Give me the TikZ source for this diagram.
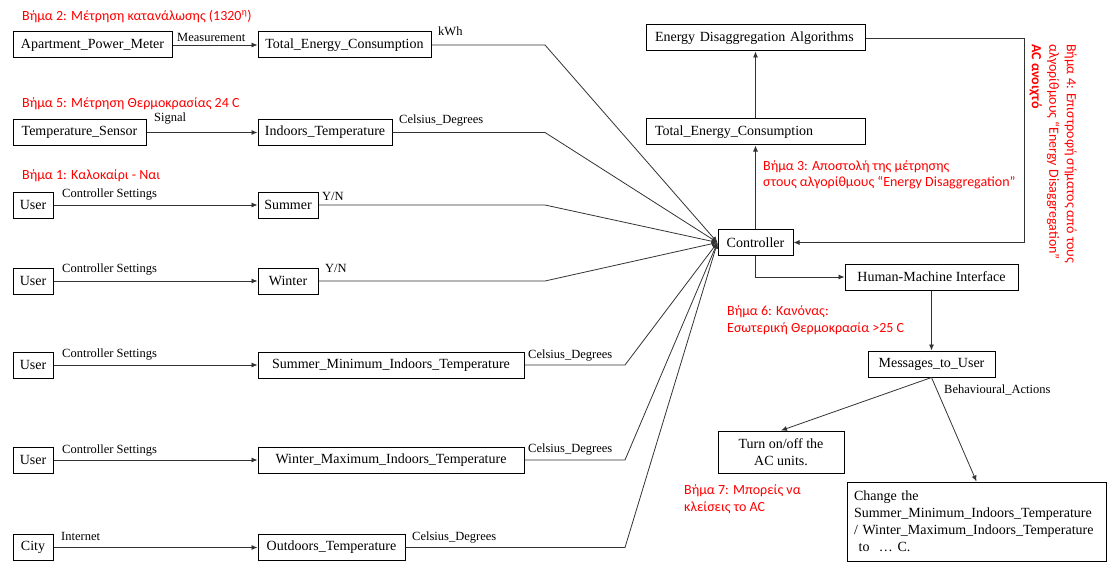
\documentclass[tikz,border=0pt]{standalone}
\usepackage{fontspec}
\setmainfont{Liberation Serif}
\newfontfamily\notefam{Carlito}
\usetikzlibrary{arrows.meta,positioning}

\tikzset{
  box/.style={rectangle, draw, line width=1pt, minimum height=26pt, inner xsep=4pt,
    font=\fontsize{14}{16}\selectfont},
  leftbox/.style={box, inner xsep=9pt, align=left},
  lbl/.style={anchor=base west, inner sep=0pt, font=\fontsize{12.5}{14}\selectfont},
  notetext/.style={anchor=west, inner sep=0pt, align=left, text=red,
    font=\notefam\fontsize{14}{16.5}\selectfont},
  flow/.style={-{Latex[length=6pt,width=5pt]}, line width=0.8pt, draw=black!80},
}

\begin{document}
\begin{tikzpicture}[x=1pt,y=-1pt]
  \useasboundingbox (0,0) rectangle (1108,567);

  % inputs, left column
  \node [box, minimum width=159pt] (apm) at (92.5,45) {Apartment\_Power\_Meter};
  \node [box, minimum width=133pt] (tsens) at (79.5,132.5) {Temperature\_Sensor};
  \node [box, minimum width=40pt] (user1) at (33,205) {User};
  \node [box, minimum width=40pt] (user2) at (33,281) {User};
  \node [box, minimum width=40pt] (user3) at (33,365) {User};
  \node [box, minimum width=40pt] (user4) at (33,460) {User};
  \node [box, minimum width=40pt] (city) at (33,547.5) {City};

  % variables, second column
  \node [box, minimum width=173pt] (tec1) at (344.5,45) {Total\_Energy\_Consumption};
  \node [box, minimum width=134pt] (indoor) at (325,132.5) {Indoors\_Temperature};
  \node [box, minimum width=60pt] (summer) at (288,205) {Summer};
  \node [box, minimum width=60pt] (winter) at (288,281) {Winter};
  \node [box, minimum width=266pt] (summin) at (391,365) {Summer\_Minimum\_Indoors\_Temperature};
  \node [box, minimum width=266pt] (wintmax) at (391,460) {Winter\_Maximum\_Indoors\_Temperature};
  \node [box, minimum width=147pt] (outdoor) at (331.5,547.5) {Outdoors\_Temperature};

  % controller side
  \node [leftbox, text width=201pt] (eda) at (755.5,38) {Energy Disaggregation Algorithms};
  \node [leftbox, text width=201pt] (tec2) at (755.5,132) {Total\_Energy\_Consumption};
  \node [box, minimum width=75pt] (ctrl) at (755.5,242.5) {Controller};
  \node [box, minimum width=173pt] (hmi) at (931.5,277) {Human-Machine Interface};
  \node [box, minimum width=127pt] (msg) at (931.5,364) {Messages\_to\_User};
  \node [box, minimum width=126pt, minimum height=42pt, align=center,
    font=\fontsize{14}{17}\selectfont] (turn) at (781,452) {Turn on/off the\\AC units.};
  \node [box, minimum width=259pt, minimum height=79pt, inner xsep=7pt, align=left,
    text width=245pt, font=\fontsize{14}{17}\selectfont] (change) at (976.5,521.5)
    {Change the\\Summer\_Minimum\_Indoors\_Temperature\\/ Winter\_Maximum\_Indoors\_Temperature\\\ to \ …\ C.};

  \coordinate (bendA) at (545,0);
  \coordinate (bendB) at (625,0);
  \coordinate (retx) at (1024,0);

  % input arrows
  \draw [flow] (apm) -- (tec1);
  \draw [flow] (tsens) -- (indoor);
  \draw [flow] (user1) -- (summer);
  \draw [flow] (user2) -- (winter);
  \draw [flow] (user3) -- (summin);
  \draw [flow] (user4) -- (wintmax);
  \draw [flow] (city) -- (outdoor);

  % into the controller
  \draw [flow] (tec1.east) -- (tec1.east -| bendA) -- (ctrl.west);
  \draw [flow] (indoor.east) -- (indoor.east -| bendA) -- (ctrl.west);
  \draw [flow] (summer.east) -- (summer.east -| bendA) -- (ctrl.west);
  \draw [flow] (winter.east) -- (winter.east -| bendA) -- (ctrl.west);
  \draw [flow] (summin.east) -- (summin.east -| bendB) -- (ctrl.west);
  \draw [flow] (wintmax.east) -- (wintmax.east -| bendB) -- (ctrl.west);
  \draw [flow] (outdoor.east) -- (outdoor.east -| bendB) -- (ctrl.west);

  % right part
  \draw [flow] (ctrl) -- (tec2);
  \draw [flow] (tec2) -- (eda);
  \draw [flow] (eda.east) -- (eda.east -| retx) -- (ctrl.east -| retx) -- (ctrl.east);
  \draw [flow] (ctrl.south) |- (hmi.west);
  \draw [flow] (hmi) -- (msg);
  \draw [flow] (msg.south) -- (turn.north);
  \draw [flow] (msg.south) -- (change.north);

  % connector labels
  \node [lbl] (lmeas) at (177,42) {Measurement};
  \node [lbl] (lkwh) at (438,36) {kWh};
  \node [lbl] (lsig) at (154,122) {Signal};
  \node [lbl] (lcel1) at (399,124) {Celsius\_Degrees};
  \node [lbl] (lset1) at (62,197) {Controller Settings};
  \node [lbl] (lyn1) at (322,200) {Y/N};
  \node [lbl] (lset2) at (62,272) {Controller Settings};
  \node [lbl] (lyn2) at (325,272) {Y/N};
  \node [lbl] (lset3) at (62,357) {Controller Settings};
  \node [lbl] (lcel2) at (528,358) {Celsius\_Degrees};
  \node [lbl] (lset4) at (62,453) {Controller Settings};
  \node [lbl] (lcel3) at (528,452) {Celsius\_Degrees};
  \node [lbl] (lnet) at (61,540) {Internet};
  \node [lbl] (lcel4) at (412,540) {Celsius\_Degrees};
  \node [lbl] (lbeh) at (944,393) {Behavioural\_Actions};

  % steps in red
  \node [notetext] (n2) at (22,17) {Βήμα 2: Μέτρηση κατανάλωσης (1320\textsuperscript{η})};
  \node [notetext] (n5) at (22,104) {Βήμα 5: Μέτρηση Θερμοκρασίας 24 C};
  \node [notetext] (n1) at (22,176) {Βήμα 1: Καλοκαίρι - Ναι};
  \node [notetext] (n3) at (763,175) {Βήμα 3: Αποστολή της μέτρησης\\στους αλγορίθμους “Energy Disaggregation”};
  \node [notetext, rotate=-90, anchor=north west, font=\notefam\fontsize{14}{17.5}\selectfont] (n4)
    at (1077,44) {Βήμα 4: Επιστροφή σήματος από τους\\αλγορίθμους “Energy Disaggregation”\\\textbf{AC ανοιχτό}};
  \node [notetext] (n6) at (727,320) {Βήμα 6: Κανόνας:\\Εσωτερική Θερμοκρασία >25 C};
  \node [notetext] (n7) at (684,499) {Βήμα 7: Μπορείς να\\κλείσεις το AC};
\end{tikzpicture}
\end{document}
